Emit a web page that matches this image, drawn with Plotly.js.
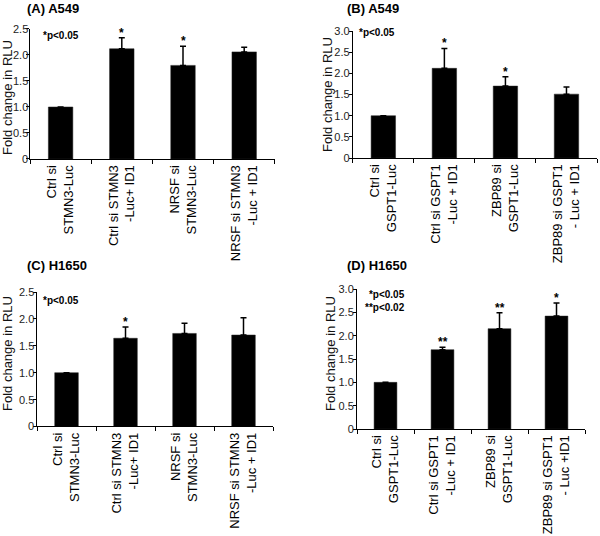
<!DOCTYPE html>
<html>
<head>
<meta charset="utf-8">
<script src="https://cdn.plot.ly/plotly-3.0.1.min.js"></script>
<style>html,body{margin:0;padding:0;background:#fff;}#chart{width:600px;height:536px;}</style>
</head>
<body>
<div id="chart"></div>
<script>
// Panel A: A549, STMN3
const catsA = ["Ctrl si<br>STMN3-Luc", "Ctrl si STMN3<br>-Luc+ ID1", "NRSF si<br>STMN3-Luc", "NRSF si STMN3<br>-Luc + ID1"];
const valsA = [1.0, 2.12, 1.80, 2.06];
const errA  = [0, 0.21, 0.37, 0.09];
const sigA  = ["", "*", "*", ""];

// Panel B: A549, GSPT1
const catsB = ["Ctrl si<br>GSPT1-Luc", "Ctrl si GSPT1<br>-Luc + ID1", "ZBP89 si<br>GSPT1-Luc", "ZBP89 si GSPT1<br>- Luc + ID1"];
const valsB = [1.0, 2.12, 1.70, 1.51];
const errB  = [0, 0.47, 0.22, 0.17];
const sigB  = ["", "*", "*", ""];

// Panel C: H1650, STMN3
const catsC = ["Ctrl si<br>STMN3-Luc", "Ctrl si STMN3<br>-Luc+ ID1", "NRSF si<br>STMN3-Luc", "NRSF si STMN3<br>-Luc + ID1"];
const valsC = [1.0, 1.64, 1.73, 1.70];
const errC  = [0, 0.21, 0.19, 0.32];
const sigC  = ["", "*", "", ""];

// Panel D: H1650, GSPT1
const catsD = ["Ctrl si<br>GSPT1-Luc", "Ctrl si GSPT1<br>-Luc + ID1", "ZBP89 si<br>GSPT1-Luc", "ZBP89 si GSPT1<br>- Luc +ID1"];
const valsD = [1.0, 1.70, 2.15, 2.42];
const errD  = [0, 0.05, 0.34, 0.28];
const sigD  = ["", "**", "**", "*"];

const panelTitles = ["(A) A549", "(B) A549", "(C) H1650", "(D) H1650"];
const pNotes = ["*p<0.05", "*p<0.05", "*p<0.05", "*p<0.05<br>**p<0.02"];
const yTitle = "Fold change in RLU";
const yTicksA = [0, 0.5, 1.0, 1.5, 2.0, 2.5];
const yTickTextA = ["0", "0.5", "1.0", "1.5", "2.0", "2.5"];
const yTicksB = [0, 0.5, 1.0, 1.5, 2.0, 2.5, 3.0];
const yTickTextB = ["0", "0.5", "1.0", "1.5", "2.0", "2.5", "3.0"];

const FONT = "Liberation Sans, Arial, sans-serif";

// lblX: pixel x of the right edge anchor for tick labels drawn as text on the left-column axes
const panels = [
  {cats: catsA, vals: valsA, err: errA, sig: sigA, xa: "x",  ya: "y",  ymax: 2.5, tv: yTicksA, tt: yTickTextA,
   xd: [0.050, 0.458], yd: [0.7034, 0.9459], tpos: [7, 98], lblX: 30},
  {cats: catsB, vals: valsB, err: errB, sig: sigB, xa: "x2", ya: "y2", ymax: 3.0, tv: yTicksB, tt: yTickTextB,
   xd: [0.588, 0.995], yd: [0.7052, 0.9420], tpos: [327, 95], lblX: null},
  {cats: catsC, vals: valsC, err: errC, sig: sigC, xa: "x3", ya: "y3", ymax: 2.5, tv: yTicksA, tt: yTickTextA,
   xd: [0.0617, 0.455], yd: [0.2043, 0.4552], tpos: [7, 354], lblX: 36},
  {cats: catsD, vals: valsD, err: errD, sig: sigD, xa: "x4", ya: "y4", ymax: 3.0, tv: yTicksB, tt: yTickTextB,
   xd: [0.595, 0.975], yd: [0.1996, 0.4608], tpos: [330, 354], lblX: null}
];

const traces = [];
const annotations = [];
const layout = {
  width: 600, height: 536,
  margin: {l: 0, r: 0, t: 0, b: 0},
  paper_bgcolor: "#fff", plot_bgcolor: "#fff",
  showlegend: false,
  font: {family: FONT, color: "#111"},
  bargap: 0.6
};

panels.forEach((p, i) => {
  traces.push({
    type: "bar", x: p.cats, y: p.vals, xaxis: p.xa, yaxis: p.ya,
    width: 0.4,
    marker: {color: "#000", line: {color: "#222", width: 0.5}},
    error_y: {type: "data", array: p.err, symmetric: false, arrayminus: p.err.map(() => 0),
              visible: true, color: "#000", thickness: 1.5, width: 3},
    hoverinfo: "skip"
  });
  const sfx = i === 0 ? "" : String(i + 1);
  layout["xaxis" + sfx] = {
    domain: p.xd, anchor: p.ya, type: "category", range: [-0.5, 3.5],
    showline: true, linecolor: "#000", linewidth: 1,
    ticks: "outside", tickson: "boundaries", ticklen: 4, tickcolor: "#000", tickwidth: 1,
    tickangle: -90, tickfont: {size: 13, family: FONT, color: "#000"},
    ticklabeloverflow: "allow",
    showgrid: false, zeroline: false, fixedrange: true
  };
  layout["yaxis" + sfx] = {
    domain: p.yd, anchor: p.xa, range: [0, p.ymax],
    tickvals: p.tv, ticktext: p.tt,
    showticklabels: p.lblX === null,
    showline: true, linecolor: "#000", linewidth: 1,
    ticks: "outside", ticklen: 3, tickcolor: "#000", tickwidth: 1,
    tickfont: {size: 11, family: FONT, color: "#222"},
    ticklabeloverflow: "allow", ticklabelstandoff: -3,
    showgrid: false, zeroline: false, fixedrange: true
  };
  // tick labels for left-column axes, placed on the axis scale
  if (p.lblX !== null) {
    p.tv.forEach((v, k) => {
      annotations.push({
        xref: "paper", yref: p.ya, x: p.lblX / 600, y: v,
        xanchor: "right", yanchor: "middle", text: p.tt[k], showarrow: false,
        font: {size: 11, family: FONT, color: "#222"}
      });
    });
  }
  // y-axis title
  annotations.push({
    xref: "paper", yref: "paper", x: p.tpos[0] / 600, y: 1 - p.tpos[1] / 536,
    xanchor: "center", yanchor: "middle", textangle: -90, text: yTitle, showarrow: false,
    font: {size: 13, family: FONT, color: "#111"}
  });
  // significance asterisks
  p.cats.forEach((c, j) => {
    if (p.sig[j]) {
      annotations.push({
        xref: p.xa, yref: p.ya, x: c, y: p.vals[j] + p.err[j],
        text: "<b>" + p.sig[j] + "</b>", showarrow: false,
        yanchor: "bottom", yshift: -4, font: {size: 12, family: FONT, color: "#000"}
      });
    }
  });
});

// panel titles
const titlePos = [[25, 8], [345, 8], [25, 265], [345, 265]];
panelTitles.forEach((t, i) => {
  annotations.push({
    xref: "paper", yref: "paper", x: titlePos[i][0] / 600, y: 1 - titlePos[i][1] / 536,
    xanchor: "left", yanchor: "middle", text: "<b>" + t + "</b>", showarrow: false,
    font: {size: 13, family: FONT, color: "#000"}
  });
});

// p-value notes
const notePos = [[41, 35, "left"], [357, 33, "left"], [41, 300, "left"], [407, 301, "right"]];
pNotes.forEach((t, i) => {
  annotations.push({
    xref: "paper", yref: "paper", x: notePos[i][0] / 600, y: 1 - notePos[i][1] / 536,
    xanchor: notePos[i][2], yanchor: "middle", align: "right",
    text: "<b>" + t + "</b>", showarrow: false,
    font: {size: 10, family: FONT, color: "#000"}
  });
});

layout.annotations = annotations;

Plotly.newPlot("chart", traces, layout, {staticPlot: true, displayModeBar: false});
</script>
</body>
</html>
